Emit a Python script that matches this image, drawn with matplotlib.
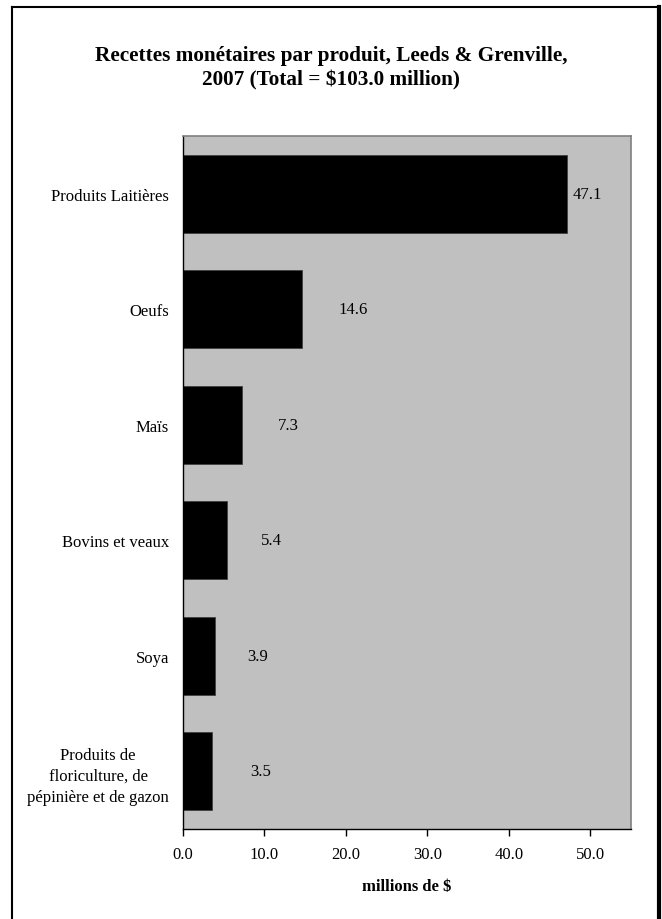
import numpy as np
import matplotlib
matplotlib.use('Agg')
import matplotlib.pyplot as plt
from matplotlib.lines import Line2D

plt.rcParams['font.family'] = ['Liberation Serif', 'DejaVu Serif']

categories = ['Produits Laitières', 'Oeufs', 'Maïs', 'Bovins et veaux', 'Soya',
              'Produits de\nfloriculture, de\npépinière et de gazon']
values = [47.1, 14.6, 7.3, 5.4, 3.9, 3.5]
xticks = [0, 10, 20, 30, 40, 50]

# horizontal shift of each value label from the bar end (data units)
label_dx = [2.5, 6.3, 5.6, 5.5, 5.2, 6.0]

fig = plt.figure(figsize=(6.62, 9.20), dpi=100)
ax = fig.add_axes([183/662, 1 - 830/920, (631 - 183)/662, (830 - 137)/920])
ax.set_facecolor('#C0C0C0')

ypos = np.arange(len(categories))
ax.barh(ypos, values, height=0.675, color='black', edgecolor='#404040', linewidth=0.6)
for y, v, dx in zip(ypos, values, label_dx):
    ax.text(v + dx, y, f'{v:.1f}', ha='center', va='center', fontsize=12)

ax.set_ylim(len(categories) - 0.5, -0.5)
ax.set_xlim(0, 55)
ax.set_yticks(ypos)
ax.set_yticklabels(categories, fontsize=12, multialignment='center', linespacing=1.45)
ax.tick_params(axis='y', length=0, pad=10)
ax.set_xticks(xticks)
ax.set_xticklabels([f'{t:.1f}' for t in xticks], fontsize=12)
ax.tick_params(axis='x', direction='out', length=5, width=1, pad=7)
ax.set_xlabel('millions de $', fontsize=12, fontweight='bold', labelpad=12)

for side in ['top', 'right']:
    ax.spines[side].set_color('#808080')
    ax.spines[side].set_linewidth(1.2)
for side in ['left', 'bottom']:
    ax.spines[side].set_color('black')
    ax.spines[side].set_linewidth(1.0)

fig.text(0.5, 1 - 56/920, 'Recettes monétaires par produit, Leeds & Grenville,',
         ha='center', va='center', fontsize=15.3, fontweight='bold')
fig.text(0.5, 1 - 80/920, '2007 (Total = $103.0 million)',
         ha='center', va='center', fontsize=15.3, fontweight='bold')

# outer frame (bottom edge falls outside the picture)
fig.add_artist(Line2D([12/662, 12/662], [0, 1 - 8/920], color='black', lw=1.5))
fig.add_artist(Line2D([12/662, 658/662], [1 - 8/920, 1 - 8/920], color='black', lw=1.5))
fig.add_artist(Line2D([659/662, 659/662], [0, 1 - 8/920], color='black', lw=3))

fig.savefig('out.png', dpi=100)
